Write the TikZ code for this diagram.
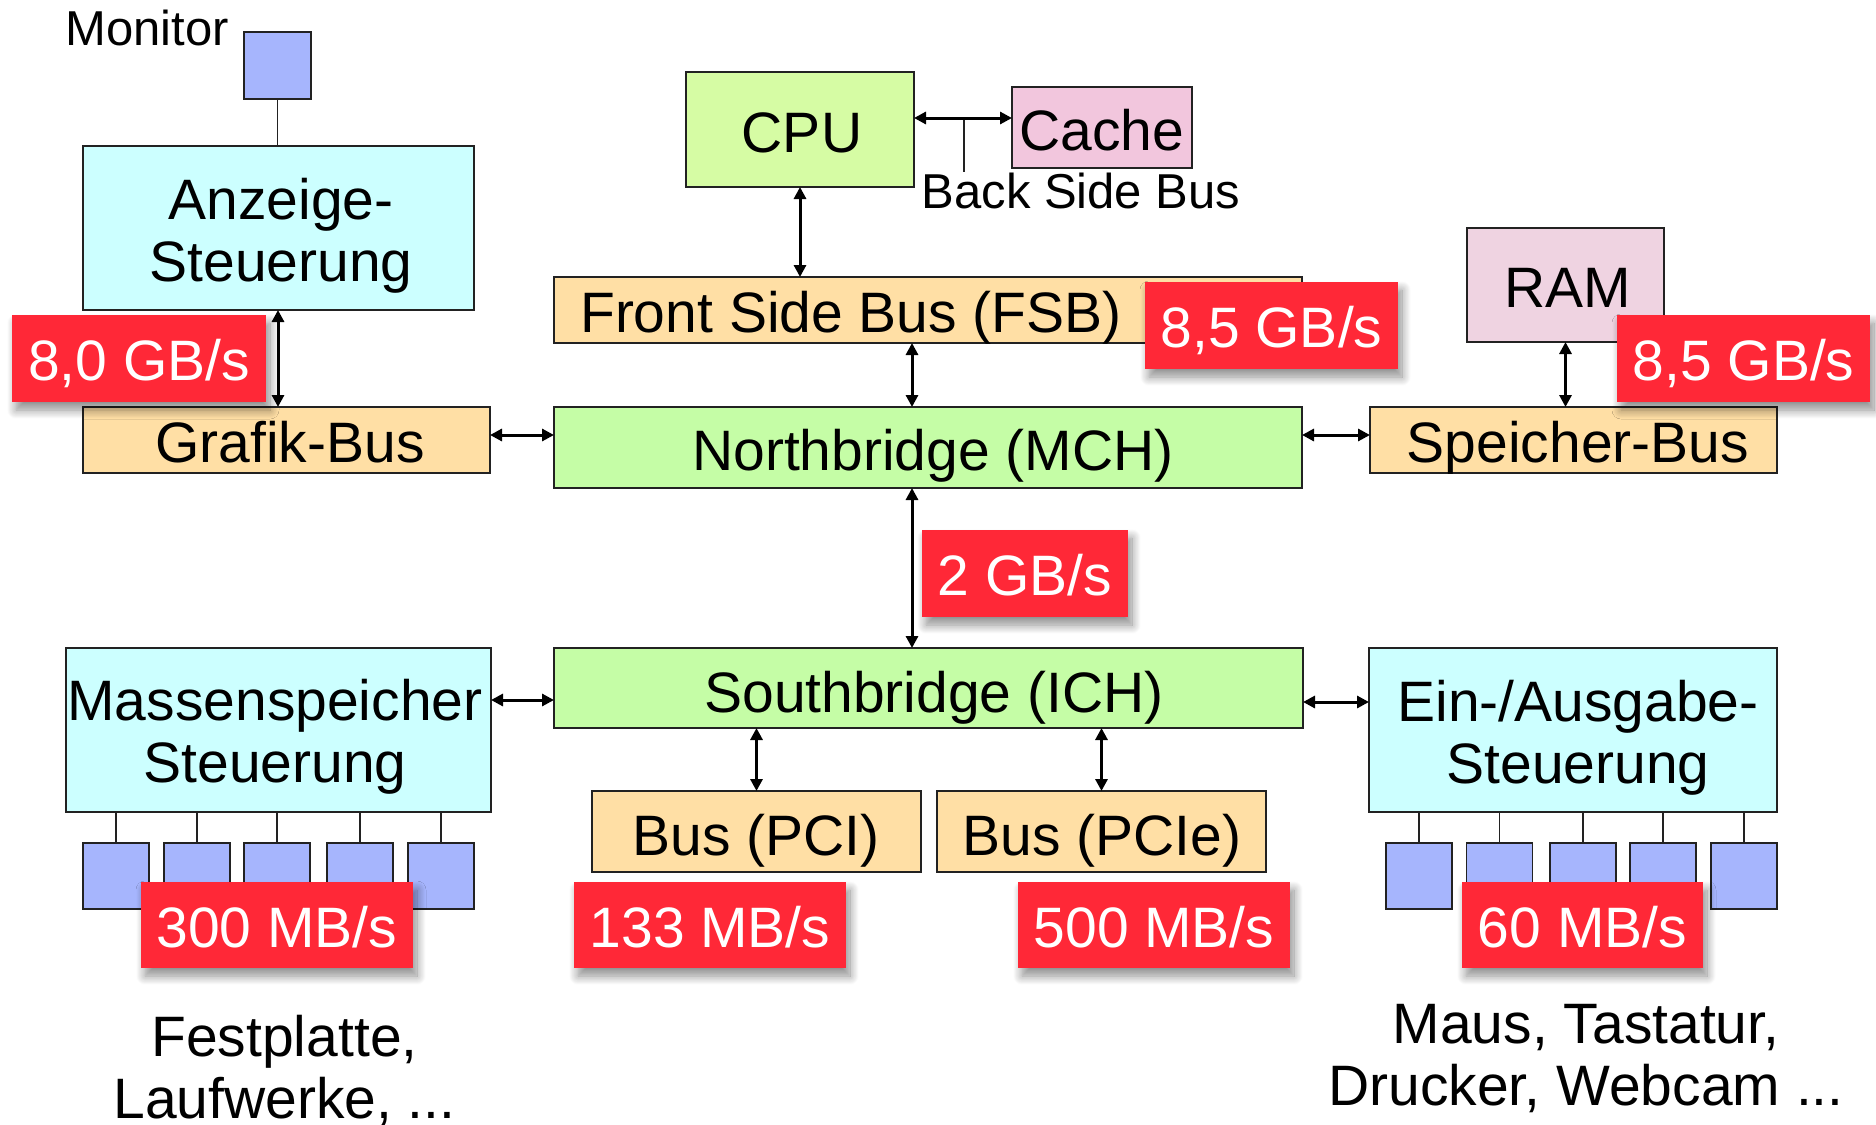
\documentclass[tikz,border=0pt]{standalone}
\usepackage{fontspec}
\setmainfont{Liberation Sans}
\usetikzlibrary{arrows.meta,shadows.blur}
\definecolor{cyanbox}{HTML}{CCFFFF}
\definecolor{cpugreen}{HTML}{D6FCA4}
\definecolor{bridgegreen}{HTML}{C5FDA6}
\definecolor{busorange}{HTML}{FFDFA5}
\definecolor{cachepink}{HTML}{F2C6DD}
\definecolor{rampink}{HTML}{EFD3E1}
\definecolor{devblue}{HTML}{A6B5FD}
\definecolor{ratered}{HTML}{FF2837}
\definecolor{bordercol}{HTML}{222222}
\newcommand\BigTxt{\fontsize{57pt}{62pt}\selectfont}
\newcommand\SmallTxt{\fontsize{49pt}{54pt}\selectfont}
\begin{document}
\begin{tikzpicture}[x=1pt,y=-1pt,
  bx/.style={draw=bordercol, line width=1.5pt, inner sep=0pt, outer sep=0pt},
  txt/.style={font=\BigTxt, inner sep=0pt, text=black},
  stxt/.style={font=\SmallTxt, inner sep=0pt, text=black},
  dev/.style={bx, fill=devblue, minimum width=66pt, minimum height=66pt},
  rate/.style={fill=ratered, inner sep=0pt, outer sep=0pt, text=white, font=\BigTxt,
    text height=44pt, text depth=0pt,
    blur shadow={shadow xshift=4pt, shadow yshift=-8pt, shadow blur radius=9pt, shadow blur steps=12, shadow opacity=45}},
  dbl/.style={{Triangle[length=12pt,width=12pt]}-{Triangle[length=12pt,width=12pt]}, line width=3pt, draw=black},
  thinl/.style={line width=1.3pt, draw=bordercol}]
\useasboundingbox (0,0) rectangle (1876,1124);

% boxes
\node[bx, fill=devblue, minimum width=67pt, minimum height=67pt] (mon) at (277.5,65.5) {};
\node[bx, fill=cyanbox, minimum width=391pt, minimum height=164pt] (anz) at (278.5,228) {};
\node[bx, fill=cpugreen, minimum width=228pt, minimum height=115pt] (cpu) at (800,129.5) {};
\node[bx, fill=cachepink, minimum width=180pt, minimum height=81pt] (cache) at (1102,127.5) {};
\node[bx, fill=busorange, minimum width=748pt, minimum height=66pt] (fsb) at (928,310) {};
\node[bx, fill=rampink, minimum width=197pt, minimum height=114pt] (ram) at (1565.5,285) {};
\node[bx, fill=busorange, minimum width=407pt, minimum height=66pt] (grafik) at (286.5,440) {};
\node[bx, fill=bridgegreen, minimum width=748pt, minimum height=81pt] (nb) at (928,447.5) {};
\node[bx, fill=busorange, minimum width=407pt, minimum height=66pt] (spb) at (1573.5,440) {};
\node[bx, fill=bridgegreen, minimum width=749pt, minimum height=80pt] (sb) at (928.5,688) {};
\node[bx, fill=cyanbox, minimum width=425pt, minimum height=164pt] (mass) at (278.5,730) {};
\node[bx, fill=cyanbox, minimum width=408pt, minimum height=164pt] (eio) at (1573,730) {};
\node[bx, fill=busorange, minimum width=329pt, minimum height=81pt] (pci) at (756.5,831.5) {};
\node[bx, fill=busorange, minimum width=329pt, minimum height=81pt] (pcie) at (1101.5,831.5) {};

% device boxes
\node[dev] (m1) at (116,876) {};
\node[dev] (m2) at (197,876) {};
\node[dev] (m3) at (277,876) {};
\node[dev] (m4) at (360,876) {};
\node[dev] (m5) at (441,876) {};
\node[dev] (e1) at (1419,876) {};
\node[dev] (e2) at (1499.5,876) {};
\node[dev] (e3) at (1583,876) {};
\node[dev] (e4) at (1663,876) {};
\node[dev] (e5) at (1744,876) {};

% texts
\node[stxt, anchor=base] (monT) at (147,46) {Monitor};
\node[txt, anchor=base] (cpuT) at (802,152) {CPU};
\node[txt, anchor=base] (cacheT) at (1102,150) {Cache};
\node[stxt, anchor=base] (bsbT) at (1081,208) {Back Side Bus};
\node[txt, anchor=north, align=center] (anzT) at (281,177.5) {Anzeige-\\Steuerung};
\node[txt, anchor=base] (fsbT) at (851,332) {Front Side Bus (FSB)};
\node[txt, anchor=base] (ramT) at (1568,307) {RAM};
\node[txt, anchor=base] (grafikT) at (290,462) {Grafik-Bus};
\node[txt, anchor=base] (nbT) at (933,470) {Northbridge (MCH)};
\node[txt, anchor=base] (spbT) at (1578,462) {Speicher-Bus};
\node[txt, anchor=base] (sbT) at (934,712) {Southbridge (ICH)};
\node[txt, anchor=north, align=center] (massT) at (275,678.5) {Massenspeicher\\Steuerung};
\node[txt, anchor=north, align=center] (eioT) at (1578,679.5) {Ein-/Ausgabe-\\Steuerung};
\node[txt, anchor=base] (pciT) at (756,855) {Bus (PCI)};
\node[txt, anchor=base] (pcieT) at (1102,855) {Bus (PCIe)};
\node[txt, anchor=north, align=center] (festT) at (284.5,1014.5) {Festplatte,\\Laufwerke, ...};
\node[txt, anchor=north, align=center] (mausT) at (1586,1004.5) {Maus, Tastatur,\\Drucker, Webcam ...};

% helper coordinates
\coordinate (bsb) at (964,118);
\coordinate (busx) at (912,0);
\coordinate (ax) at (278,0);
\coordinate (gy) at (0,435);
\coordinate (my) at (0,700);
\coordinate (ey) at (0,702);

% connectors
\draw[thinl] (mon.south) -- (mon.south |- anz.north);
\draw[thinl] (bsb) -- (bsb |- bsbT.north);
\foreach \i in {1,...,5} {
  \draw[thinl] (m\i.north |- mass.south) -- (m\i.north);
  \draw[thinl] (e\i.north |- eio.south) -- (e\i.north);
}
\draw[dbl] (bsb -| cpu.east) -- (bsb -| cache.west);
\draw[dbl] (cpu.south) -- (cpu.south |- fsb.north);
\draw[dbl] (busx |- fsb.south) -- (busx |- nb.north);
\draw[dbl] (busx |- nb.south) -- (busx |- sb.north);
\draw[dbl] (ax |- anz.south) -- (ax |- grafik.north);
\draw[dbl] (gy -| grafik.east) -- (gy -| nb.west);
\draw[dbl] (gy -| nb.east) -- (gy -| spb.west);
\draw[dbl] (ram.south) -- (ram.south |- spb.north);
\draw[dbl] (my -| mass.east) -- (my -| sb.west);
\draw[dbl] (ey -| sb.east) -- (ey -| eio.west);
\draw[dbl] (pci.north |- sb.south) -- (pci.north);
\draw[dbl] (pcie.north |- sb.south) -- (pcie.north);

% rate labels
\node[rate, minimum width=254pt, minimum height=87pt] (r80) at (139,358.5) {8,0 GB/s};
\node[rate, minimum width=253pt, minimum height=87pt] (r85a) at (1271.5,325.5) {8,5 GB/s};
\node[rate, minimum width=253pt, minimum height=87pt] (r85b) at (1743.5,358.5) {8,5 GB/s};
\node[rate, minimum width=206pt, minimum height=87pt] (r2) at (1025,573.5) {2 GB/s};
\node[rate, minimum width=272pt, minimum height=86pt] (r300) at (277,925) {300 MB/s};
\node[rate, minimum width=272pt, minimum height=86pt] (r133) at (710,925) {133 MB/s};
\node[rate, minimum width=272pt, minimum height=86pt] (r500) at (1154,925) {500 MB/s};
\node[rate, minimum width=241pt, minimum height=86pt] (r60) at (1582.5,925) {60 MB/s};
\end{tikzpicture}
\end{document}
